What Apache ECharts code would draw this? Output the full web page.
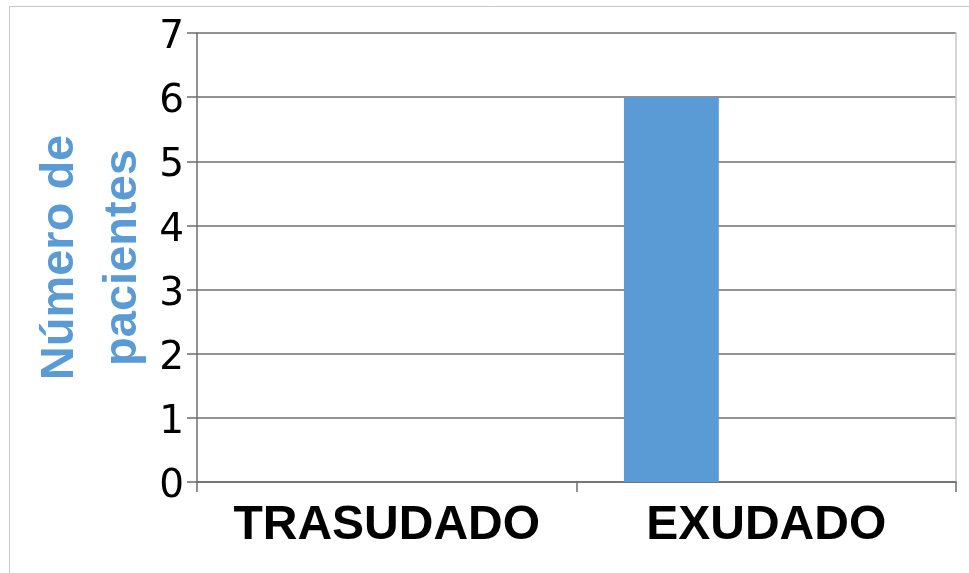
<!DOCTYPE html>
<html>
<head>
<meta charset="utf-8">
<script src="https://cdn.jsdelivr.net/npm/echarts@6/dist/echarts.min.js"></script>
<style>
  html, body { margin: 0; padding: 0; background: #fff; }
  #chart { width: 969px; height: 573px; }
</style>
</head>
<body>
<div id="chart"></div>
<script>
// Tipo de derrame: número de pacientes por categoría
const categories = ['TRASUDADO', 'EXUDADO'];
const serie1 = [null, 6];
const serie2 = [null, null];
const serie3 = [null, null];
const yTicks = { min: 0, max: 7, interval: 1 };
const yTitle = 'Número de\npacientes';

const chart = echarts.init(document.getElementById('chart'), null, { renderer: 'canvas' });

const gridColor = '#6e6e6e';

const option = {
  animation: false,
  backgroundColor: '#ffffff',
  grid: { left: 197, right: 13, top: 33, bottom: 91, containLabel: false },
  graphic: [{
    type: 'rect',
    shape: { x: 9.5, y: 6.5, width: 1000, height: 600 },
    style: { fill: 'none', stroke: '#c6c6c6', lineWidth: 1 },
    silent: true
  }],
  xAxis: {
    type: 'category',
    data: categories,
    axisLine: { show: true, lineStyle: { color: gridColor, width: 1.5 } },
    axisTick: { show: true, length: 10, alignWithLabel: false, lineStyle: { color: gridColor, width: 1.5 } },
    axisLabel: {
      interval: 0,
      margin: 20,
      fontFamily: 'Liberation Sans',
      fontWeight: 'bold',
      fontSize: 48,
      color: '#000'
    }
  },
  yAxis: [{
    type: 'value',
    min: yTicks.min,
    max: yTicks.max,
    interval: yTicks.interval,
    name: yTitle,
    nameLocation: 'middle',
    nameRotate: 90,
    nameGap: 42,
    nameMoveOverlap: false,
    nameTextStyle: {
      fontFamily: 'Liberation Sans',
      fontWeight: 'bold',
      fontSize: 47,
      lineHeight: 63,
      color: '#5b9bd5',
      align: 'center'
    },
    axisLine: { show: true, lineStyle: { color: gridColor, width: 1.5 } },
    axisTick: { show: true, length: 10, lineStyle: { color: gridColor, width: 1.5 } },
    axisLabel: {
      margin: 13,
      formatter: '{n|{value}}',
      rich: {
        n: {
          padding: [10, 0, 0, 0],
          fontFamily: 'DejaVu Sans',
          fontSize: 39,
          color: '#000'
        }
      },
      fontFamily: 'DejaVu Sans',
      fontSize: 39,
      color: '#000'
    },
    splitLine: { show: true, lineStyle: { color: gridColor, width: 1.5 } }
  }, {
    type: 'value',
    position: 'right',
    min: yTicks.min,
    max: yTicks.max,
    interval: yTicks.interval,
    axisLine: { show: true, lineStyle: { color: '#c6c6c6', width: 1.5 } },
    axisTick: { show: false },
    axisLabel: { show: false },
    splitLine: { show: false }
  }],
  series: [
    { name: 'Serie 1', type: 'bar', data: serie1, barGap: '0%', barCategoryGap: '25%',
      itemStyle: { color: '#5b9bd5' } },
    { name: 'Serie 2', type: 'bar', data: serie2, barGap: '0%', barCategoryGap: '25%',
      itemStyle: { color: '#ed7d31' } },
    { name: 'Serie 3', type: 'bar', data: serie3, barGap: '0%', barCategoryGap: '25%',
      itemStyle: { color: '#a5a5a5' } }
  ]
};

chart.setOption(option);
</script>
</body>
</html>
